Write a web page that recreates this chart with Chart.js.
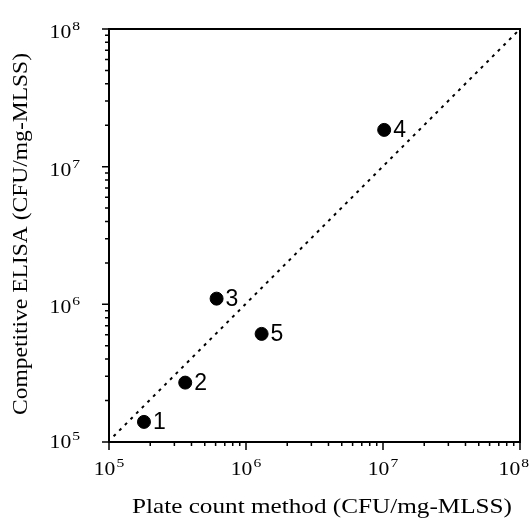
<!DOCTYPE html>
<html>
<head>
<meta charset="utf-8">
<script src="https://cdn.jsdelivr.net/npm/chart.js@4.4.1/dist/chart.umd.min.js"></script>
<style>
html,body{margin:0;padding:0;background:#fff;}
#wrap{width:530px;height:523px;position:relative;}
</style>
</head>
<body>
<div id="wrap"><canvas id="c" width="530" height="523"></canvas></div>
<script>
// ---- data ----
const pointLabels = ['1', '2', '3', '4', '5'];
const plateCount = [1.8e5, 3.6e5, 6.1e5, 1.02e7, 1.3e6];
const elisa = [1.4e5, 2.7e5, 1.1e6, 1.85e7, 6.1e5];
const lineX = [1.08e5, 1e8];
const lineY = [1.1e5, 1e8];
const decadeTicks = [1e5, 1e6, 1e7, 1e8];
const decadeExp = ['5', '6', '7', '8'];
const minorMult = [2, 3, 4, 5, 6, 7, 8, 9];
const xTitle = 'Plate count method (CFU/mg-MLSS)';
const yTitle = 'Competitive ELISA (CFU/mg-MLSS)';

const SERIF = '"Liberation Serif","Times New Roman",serif';
const SANS = '"Liberation Sans",Arial,sans-serif';

// draws text horizontally stretched so that it spans targetW
function stretchText(ctx, text, cx, baseY, targetW) {
  const w = ctx.measureText(text).width;
  const s = targetW / w;
  ctx.save();
  ctx.translate(cx, baseY);
  ctx.scale(s, 1);
  ctx.textAlign = 'center';
  ctx.fillText(text, 0, 0);
  ctx.restore();
}

function drawPow(ctx, x, baseY, exp, align) {
  ctx.save();
  ctx.fillStyle = '#000';
  ctx.textBaseline = 'alphabetic';
  const sx = 1.2;
  ctx.font = '18px ' + SERIF;
  const wb = ctx.measureText('10').width * sx;
  ctx.font = '13px ' + SERIF;
  const we = ctx.measureText(exp).width * sx;
  const total = wb + we + 1;
  let left;
  if (align === 'center') left = x - total / 2;
  else left = x - total;
  if (left + total > 529) left = 529 - total;
  ctx.translate(left, baseY);
  ctx.scale(sx, 1);
  ctx.textAlign = 'left';
  ctx.font = '18px ' + SERIF;
  ctx.fillText('10', 0, 0);
  ctx.font = '13px ' + SERIF;
  ctx.fillText(exp, (wb + 1) / sx, -8);
  ctx.restore();
}

const axesPlugin = {
  id: 'axesPlugin',
  afterDraw(chart) {
    const ctx = chart.ctx;
    const xs = chart.scales.x, ys = chart.scales.y;
    const a = chart.chartArea;
    ctx.save();
    ctx.strokeStyle = '#000';
    ctx.lineWidth = 2;
    ctx.strokeRect(a.left, a.top, a.right - a.left, a.bottom - a.top);
    ctx.lineWidth = 1.5;
    // ticks
    ctx.beginPath();
    decadeTicks.forEach((v, i) => {
      const px = xs.getPixelForValue(v);
      ctx.moveTo(px, a.bottom); ctx.lineTo(px, a.bottom + 8);
      const py = ys.getPixelForValue(v);
      ctx.moveTo(a.left, py); ctx.lineTo(a.left - 7, py);
      if (i < decadeTicks.length - 1) {
        minorMult.forEach(m => {
          const mx = xs.getPixelForValue(v * m);
          ctx.moveTo(mx, a.bottom); ctx.lineTo(mx, a.bottom + 4);
          const my = ys.getPixelForValue(v * m);
          ctx.moveTo(a.left, my); ctx.lineTo(a.left - 4, my);
        });
      }
    });
    ctx.stroke();
    // tick labels
    decadeTicks.forEach((v, i) => {
      drawPow(ctx, xs.getPixelForValue(v), 475, decadeExp[i], 'center');
      let by = ys.getPixelForValue(v) + 9;
      if (by < 36) by = 36;
      if (by > 448) by = 448;
      drawPow(ctx, 80, by, decadeExp[i], 'right');
    });
    // axis titles
    ctx.fillStyle = '#000';
    ctx.font = '21px ' + SERIF;
    ctx.textBaseline = 'alphabetic';
    stretchText(ctx, xTitle, 322, 513, 380);
    ctx.save();
    ctx.translate(27, 234);
    ctx.rotate(-Math.PI / 2);
    stretchText(ctx, yTitle, 0, 0, 362);
    ctx.restore();
    // point labels
    const meta = chart.getDatasetMeta(1);
    ctx.font = '23px ' + SANS;
    ctx.textAlign = 'left';
    ctx.textBaseline = 'middle';
    meta.data.forEach((el, i) => {
      ctx.fillText(pointLabels[i], el.x + 9, el.y + 1);
    });
    ctx.restore();
  }
};

new Chart(document.getElementById('c'), {
  type: 'scatter',
  data: {
    datasets: [
      {
        type: 'line',
        data: lineX.map((x, i) => ({x: x, y: lineY[i]})),
        borderColor: '#000',
        borderWidth: 2,
        borderDash: [3, 5],
        pointRadius: 0,
        fill: false
      },
      {
        data: plateCount.map((x, i) => ({x: x, y: elisa[i]})),
        backgroundColor: '#000',
        borderColor: '#000',
        pointRadius: 6.5,
        pointHoverRadius: 6.5
      }
    ]
  },
  options: {
    responsive: false,
    animation: false,
    events: [],
    layout: {padding: {left: 0, right: 10, top: 29, bottom: 0}},
    plugins: {legend: {display: false}, tooltip: {enabled: false}},
    scales: {
      x: {
        type: 'logarithmic', min: 1e5, max: 1e8,
        grid: {display: false}, border: {display: false},
        ticks: {display: false},
        afterFit(s) { s.height = 81; }
      },
      y: {
        type: 'logarithmic', min: 1e5, max: 1e8,
        grid: {display: false}, border: {display: false},
        ticks: {display: false},
        afterFit(s) { s.width = 109; }
      }
    }
  },
  plugins: [axesPlugin]
});
</script>
</body>
</html>
